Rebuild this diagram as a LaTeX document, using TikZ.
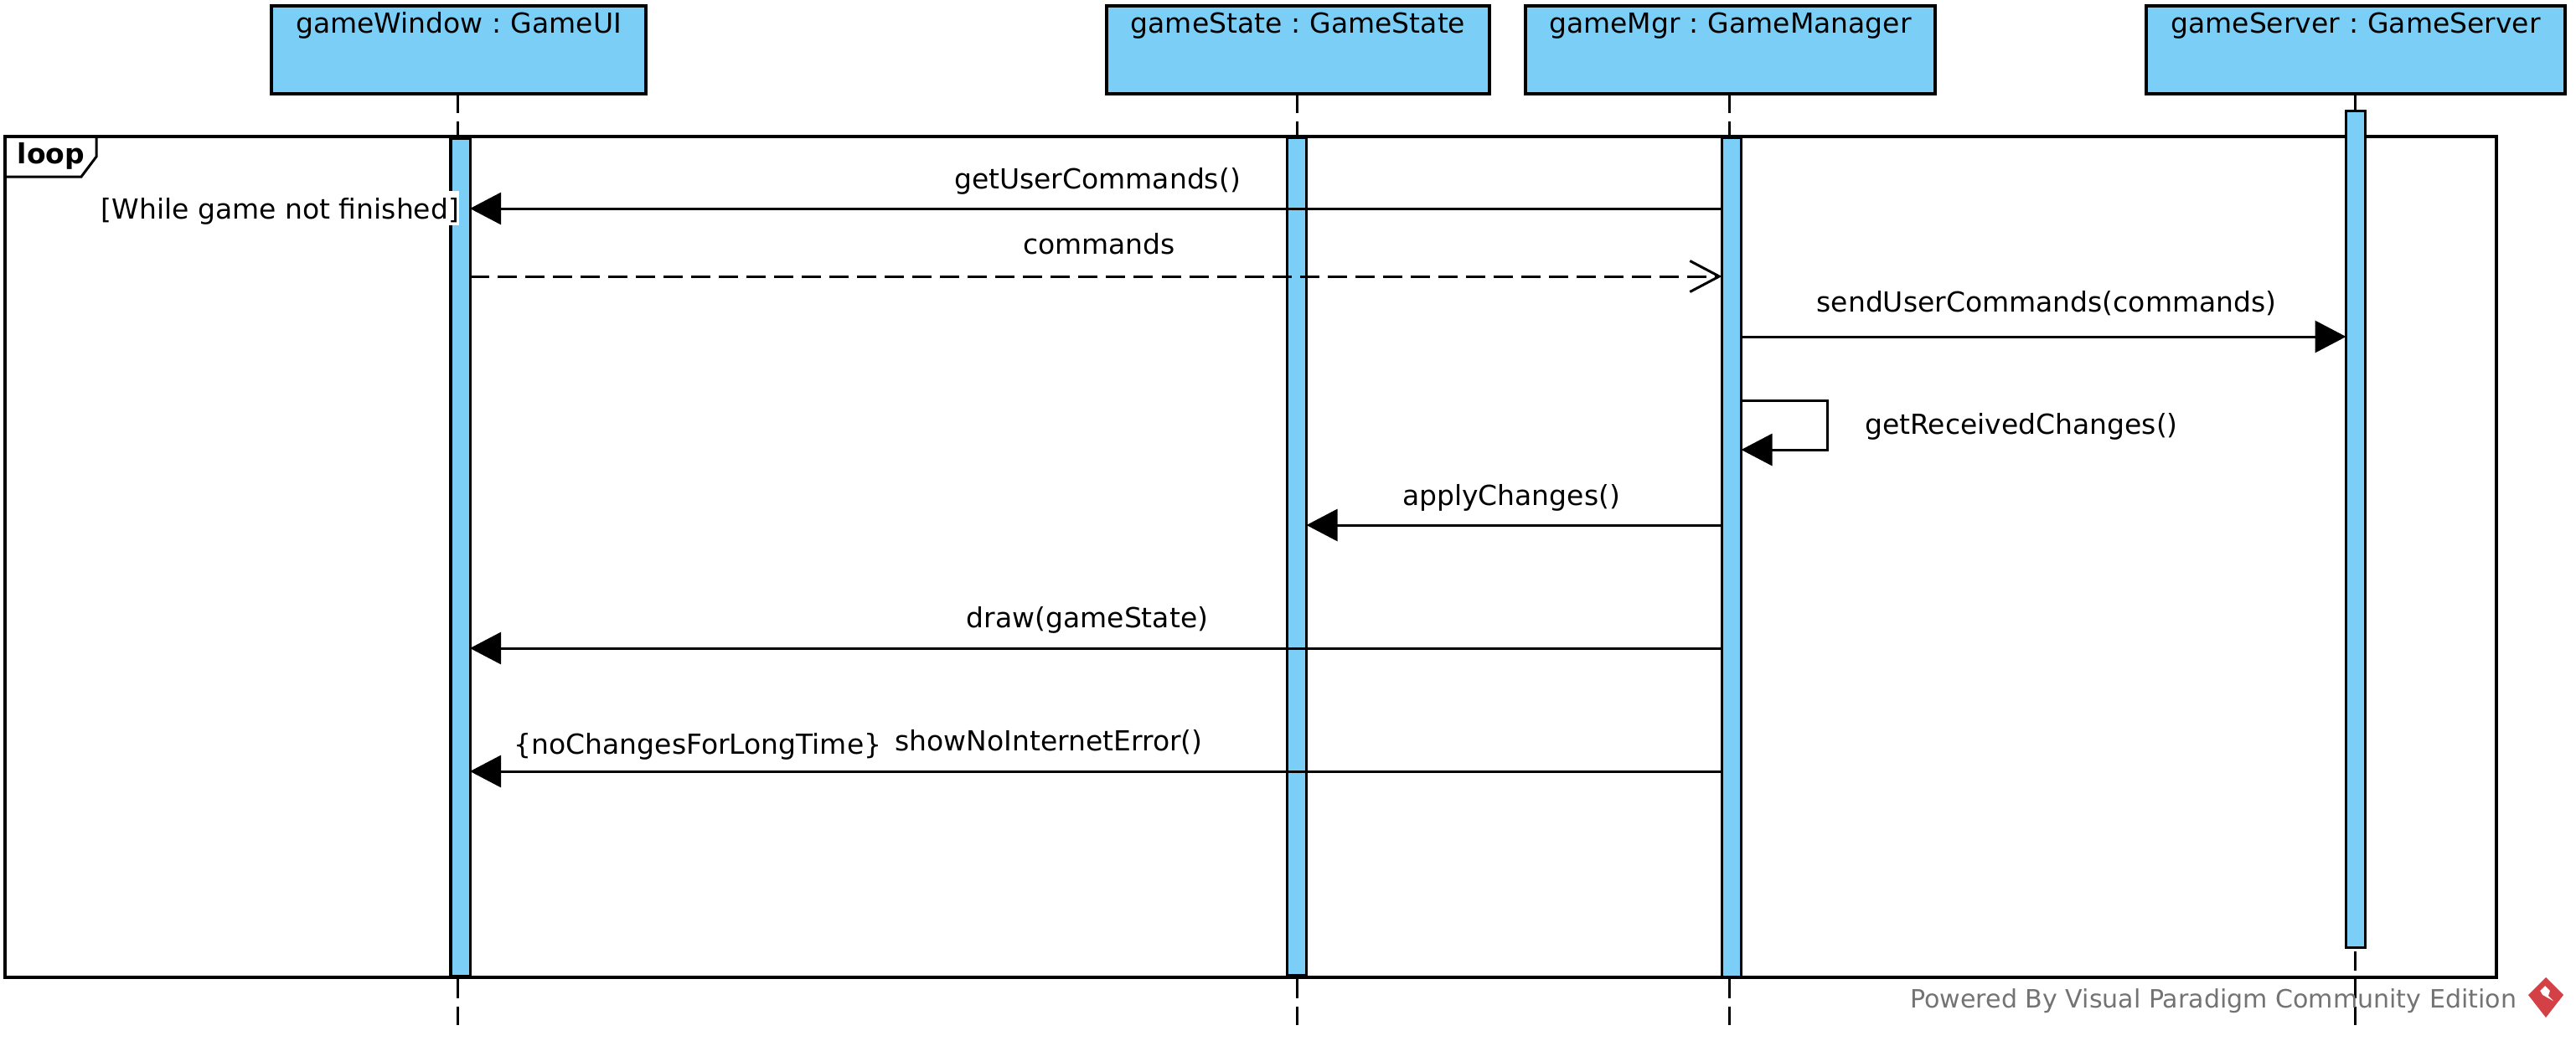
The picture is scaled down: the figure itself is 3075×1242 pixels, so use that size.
\documentclass[tikz,border=0pt]{standalone}
\usepackage{fontspec}
\setmainfont{DejaVu Sans}
\usetikzlibrary{arrows.meta}
\definecolor{lifeblue}{HTML}{7BCFF6}
\definecolor{logored}{HTML}{CF3035}
\frenchspacing
\begin{document}
\begin{tikzpicture}[x=0.01cm, y=-0.01cm,
	every node/.style={font=\fontsize{9.38}{11}\selectfont, outer sep=0pt},
	objstyle/.style={rectangle, draw=black, line width=0.04cm, fill=lifeblue,
		inner sep=0pt, text height=0.32cm, text depth=0.73cm, align=center, anchor=north},
	barstyle/.style={rectangle, draw=black, line width=0.03cm, fill=lifeblue,
		inner sep=0pt, minimum width=0.23cm, anchor=north},
	lifestyle/.style={line width=0.03cm, dash pattern=on 0.23cm off 0.10cm},
	callstyle/.style={line width=0.03cm, -{Triangle[length=0.37cm, width=0.38cm]}},
	replystyle/.style={line width=0.03cm, dash pattern=on 0.23cm off 0.10cm,
		-{Straight Barb[length=0.35cm, width=0.37cm]}},
	msgstyle/.style={anchor=base, inner sep=0pt}]
	\useasboundingbox (0,0) rectangle (3075,1242);

	% lifelines with their heads
	\foreach \obj/\label/\wid/\cx in {gameWindow/gameWindow : GameUI/4.47cm/547.5, gameState/gameState : GameState/4.57cm/1549.5, gameMgr/gameMgr : GameManager/4.89cm/2065.5, gameServer/gameServer : GameServer/5.00cm/2812} {
		\node(\obj) [objstyle, text width=\wid] at (\cx,7) {\label};
		\coordinate (\obj end) at (\cx,1224);
		\draw[lifestyle] ([xshift=-0.01cm]\obj.south) -- ([xshift=-0.01cm]\obj end);
	};

	% loop frame
	\draw[line width=0.04cm] (6,163) rectangle (2980,1167);
	\draw[line width=0.03cm] (115,163) -- (115,187) -- (97,211) -- (6,211);
	\node(loop) [msgstyle, font=\fontsize{9.38}{11}\selectfont\bfseries] at (61,195) {loop};

	% activation bars
	\foreach \bar/\cx/\top/\len in {barWindow/549.5/165/10.00cm, barState/1548/164/10.00cm, barMgr/2067/164/10.02cm, barServer/2812/132/9.99cm} {
		\node(\bar) [barstyle, minimum height=\len] at (\cx,\top) {};
	};

	% messages
	\foreach \from/\to/\ym/\mstyle/\xl/\yl/\label [count=\s] in {
		barMgr.west/barWindow.east/249/callstyle/1310/225/getUserCommands(),
		barWindow.east/barMgr.west/330/replystyle/1312/303/commands,
		barMgr.east/barServer.west/402/callstyle/2443/372/sendUserCommands(commands),
		barMgr.west/barState.east/627/callstyle/1804/603/applyChanges(),
		barMgr.west/barWindow.east/774/callstyle/1298/749/draw(gameState),
		barMgr.west/barWindow.east/921/callstyle/1252/896/showNoInternetError()} {
		\coordinate (msg\s) at (0,\ym);
		\draw[\mstyle] (\from |- msg\s) -- (\to |- msg\s);
		\node(label\s) [msgstyle] at (\xl,\yl) {\label};
	};

	% self call
	\coordinate (selfout) at (2181,478);
	\coordinate (selfin) at (2181,537);
	\draw[callstyle] (barMgr.east |- selfout) -- (selfout) -- (selfin) -- (barMgr.east |- selfin);
	\node(selflabel) [msgstyle] at (2413,518) {getReceivedChanges()};

	% guards
	\node(guard) [anchor=base east, fill=white, inner sep=0pt, text height=0.33cm, text depth=0.08cm] at (548,261) {[While game not finished]};
	\node(constraint) [msgstyle] at (833,900) {\{noChangesForLongTime\}};

	% footer
	\node(powered) [anchor=base east, inner sep=0pt, text=black!55, font=\fontsize{8.55}{11}\selectfont] at (3004,1203) {Powered By Visual Paradigm Community Edition};
	\fill[logored, opacity=0.92, even odd rule] (3039,1167) -- (3060,1188) -- (3039,1215) -- (3018,1188) -- cycle
		(3038,1177) -- (3044,1183) -- (3042,1189) -- (3049,1196) -- (3035,1188) -- (3032,1183) -- cycle;
\end{tikzpicture}
\end{document}
